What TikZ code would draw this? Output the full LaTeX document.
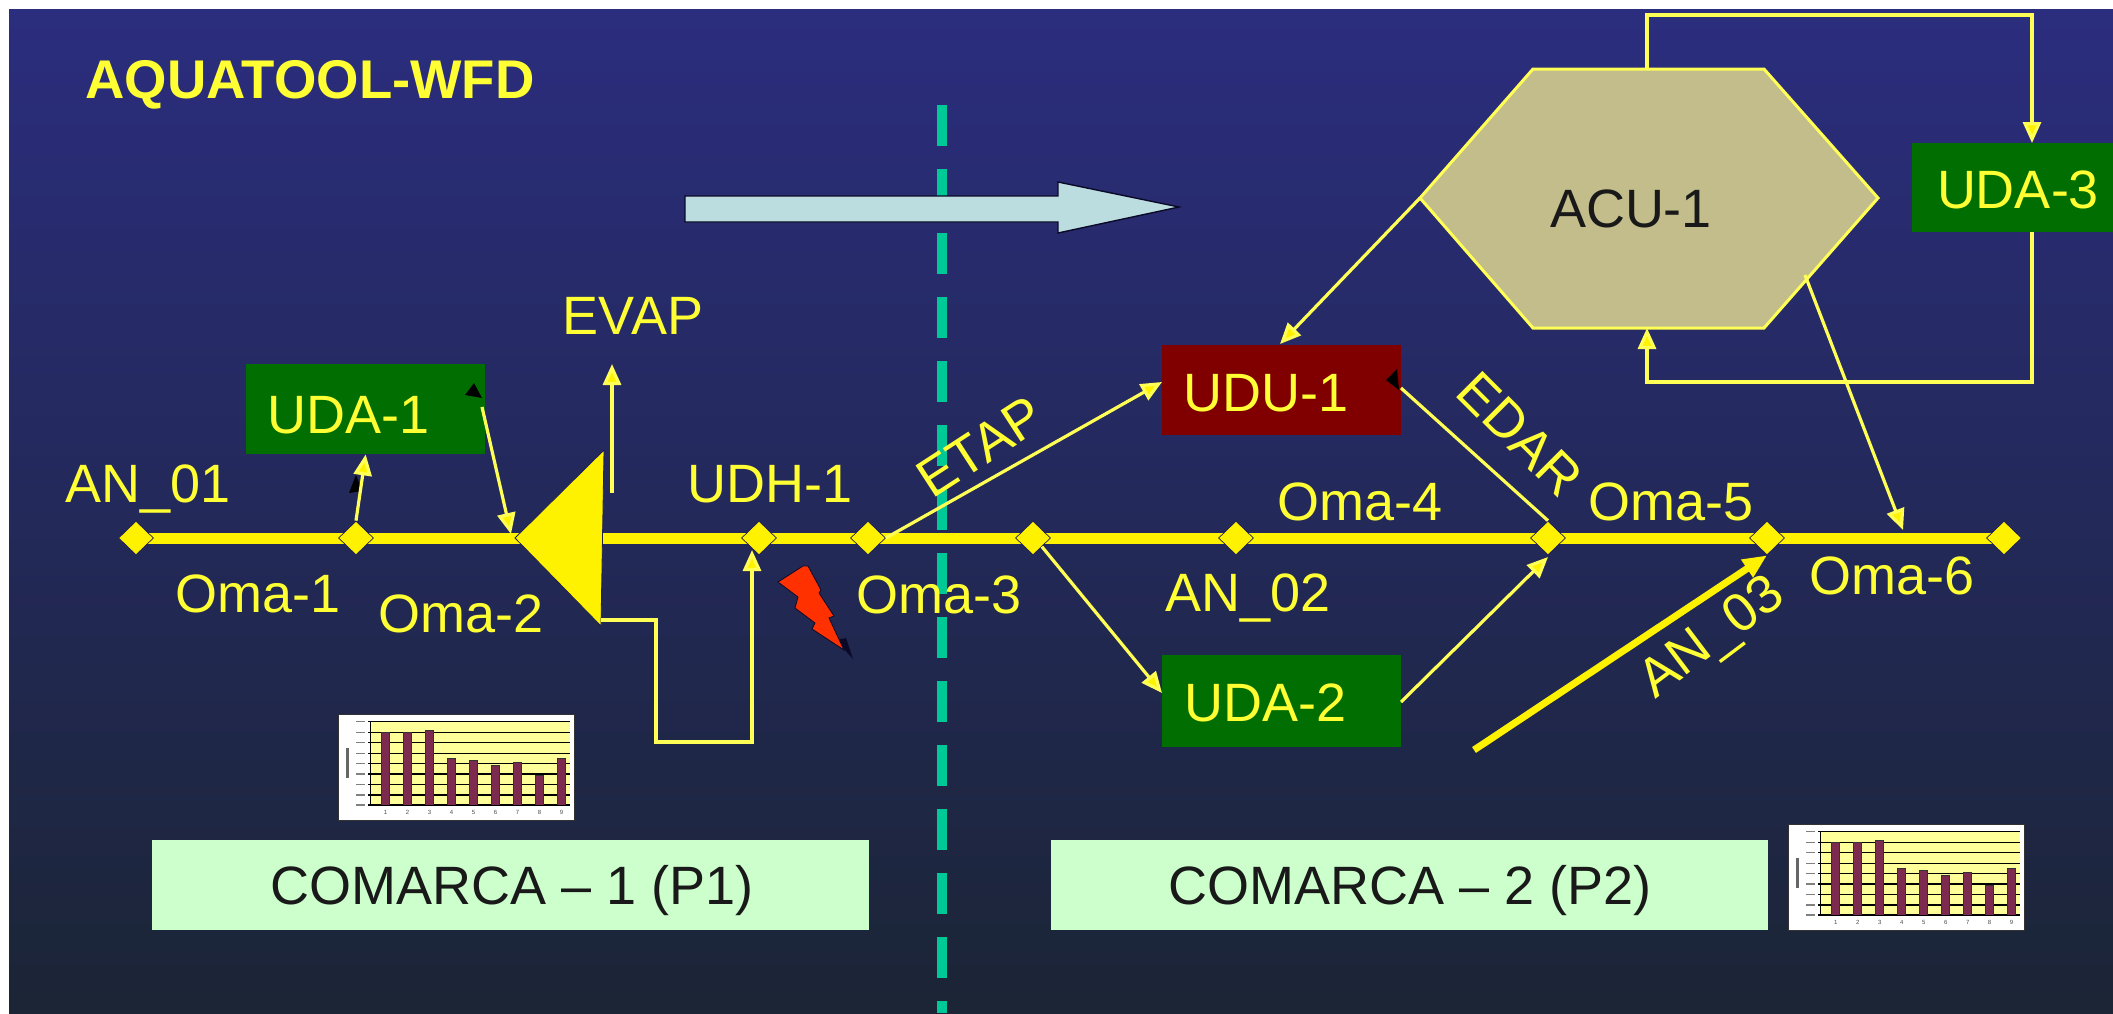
\documentclass[tikz,border=0pt]{standalone}
\usepackage{fontspec}
\setmainfont{Liberation Sans}
\usetikzlibrary{arrows.meta,shapes.geometric}
\definecolor{ylw}{HTML}{FFFF33}
\definecolor{lny}{HTML}{FFFF55}
\definecolor{grn}{HTML}{006E00}
\definecolor{dred}{HTML}{800000}
\definecolor{mint}{HTML}{CCFFCC}
\definecolor{khaki}{HTML}{C2BD8A}
\definecolor{teal2}{HTML}{00C896}
\definecolor{pale}{HTML}{BCDDE0}
\definecolor{barc}{HTML}{7D2A50}
\definecolor{chy}{HTML}{FFFF99}
\definecolor{rim}{HTML}{1E1E50}
\definecolor{shadowk}{HTML}{0A0A28}
\tikzset{
  lab/.style={text=ylw,font=\fontsize{54pt}{60pt}\selectfont,inner sep=0pt,anchor=base},
  rlab/.style={text=ylw,font=\fontsize{54pt}{60pt}\selectfont,inner sep=0pt,anchor=center},
  dlab/.style={text=black!90,font=\fontsize{54pt}{60pt}\selectfont,inner sep=0pt,anchor=base},
  boxn/.style={inner sep=0pt,minimum width=239pt,minimum height=90pt,anchor=north west},
  mark2/.style={diamond,fill=yellow,draw=rim,line width=.7pt,inner sep=0pt,minimum width=35pt,minimum height=34pt},
  conn/.style={draw=lny,line width=3.2pt,-{Triangle[length=21pt,width=18pt,fill=yellow]}},
  plain/.style={draw=lny,line width=3.2pt},
  comarca/.style={fill=mint,inner sep=0pt,minimum width=717pt,minimum height=90pt,anchor=north west},
}
\newcommand{\chartat}[2]{%
\begin{scope}[shift={(#1,#2)},x=0.3333pt,y=-0.3333pt]
  \fill[black!80] (-3,-3) rectangle (708,318);
  \fill[white] (0,0) rectangle (705,315);
  \fill[chy] (95,20) rectangle (693,270);
  \foreach \gy in {20,52,82,115,145,177,208,240,270} {
    \draw[black,line width=1.5pt] (88,\gy) -- (693,\gy);
    \draw[gray,line width=1.4pt] (52,\gy) -- (78,\gy);
  }
  \draw[black,line width=1.5pt] (95,20) -- (95,270);
  \foreach \bx/\by in {140/52,206/52,272/45,338/130,404/135,470/150,536/142,602/180,668/130} {
    \fill[barc] (\bx-12,\by) rectangle (\bx+12,270);
    \draw[black!80,line width=.6pt] (\bx-12,270) -- (\bx-12,\by) -- (\bx+12,\by) -- (\bx+12,270);
  }
  \draw[gray!80!black,line width=3pt] (25,100) -- (25,190);
  \foreach \k in {1,...,9} {
    \node[inner sep=0pt,text=black!70,font=\fontsize{6pt}{6pt}\selectfont] at (140+66*\k-66,292) {\k};
  }
\end{scope}}
\begin{document}
\begin{tikzpicture}[x=1pt,y=-1pt]
\useasboundingbox (0,0) rectangle (2113,1013);
\fill[white] (0,0) rectangle (2113,1013);
\shade[top color={rgb,255:red,43;green,45;blue,126},middle color={rgb,255:red,37;green,40;blue,108},bottom color={rgb,255:red,27;green,37;blue,53}] (9,9) rectangle (2113,1013);
% divider
\coordinate (divtop) at (942,105);
\coordinate (divbot) at (942,1013);
\draw[teal2,line width=10pt,dash pattern=on 41pt off 23pt] (divtop) -- (divbot);
% big arrow
\fill[pale,draw=shadowk,line width=1.4pt] (685,196) -- (1058,196) -- (1058,182) -- (1179,207) -- (1058,233) -- (1058,222) -- (685,222) -- cycle;
% title
\node[lab,font=\fontsize{54.5pt}{60pt}\selectfont\bfseries] (title) at (310,98) {AQUATOOL-WFD};
% main line and markers
\coordinate (linea) at (136,538);
\coordinate (lineb) at (2004,538);
\draw[yellow,line width=11pt] (linea) -- (lineb);
\node[mark2] (d1) at (136,538) {};
\node[mark2] (d2) at (356,538) {};
\node[mark2] (d3) at (759,538) {};
\node[mark2] (d4) at (868,538) {};
\node[mark2] (d5) at (1033,538) {};
\node[mark2] (d6) at (1236,538) {};
\node[mark2] (d7) at (1548,538) {};
\node[mark2] (d8) at (1767,538) {};
\node[mark2] (d9) at (2004,538) {};
% boxes
\node[boxn,fill=grn] (uda1) at (246,364) {};
\node[lab] (uda1t) at (349,433) {UDA-1};
\node[boxn,fill=dred] (udu1) at (1162,345) {};
\node[lab] (udu1t) at (1266,411) {UDU-1};
\node[boxn,fill=grn,minimum height=92pt] (uda2) at (1162,655) {};
\node[lab] (uda2t) at (1266,721) {UDA-2};
\node[boxn,fill=grn,minimum width=201pt,minimum height=89pt] (uda3) at (1912,143) {};
\node[lab] (uda3t) at (2018,208) {UDA-3};
% reservoir triangle
\coordinate (rtip) at (515,538);
\coordinate (rtop) at (604,450);
\coordinate (rbot) at (601,626);
\coordinate (rout) at (601,620);
\fill[yellow,draw=rim,line width=.8pt] (rtip) -- (rtop) -- (rbot) -- cycle;
% hexagon
\coordinate (hL) at (1420,198);
\coordinate (hTL) at (1533,69);
\coordinate (hTR) at (1764,69);
\coordinate (hR) at (1878,198);
\coordinate (hBR) at (1764,328);
\coordinate (hBL) at (1533,328);
\fill[khaki,draw=lny,line width=3pt] (hL) -- (hTL) -- (hTR) -- (hR) -- (hBR) -- (hBL) -- cycle;
\node[dlab] (acu1) at (1631,227) {ACU-1};
% small black marks
\fill[black] (349,493) -- (356,475) -- (362,491) -- cycle;
\fill[black] (465,395) -- (474,383) -- (482,398) -- cycle;
\fill[black] (1386,380) -- (1397,369) -- (1399,390) -- cycle;
% connectors
\coordinate (evap0) at (612,493);
\coordinate (evap1) at (612,364);
\draw[conn] (evap0) -- (evap1);
\draw[conn] (d2.north) -- (uda1.south);
\coordinate (u1out) at (482,407);
\coordinate (rin) at (511,534);
\draw[conn] (u1out) -- (rin);
\coordinate (d3in) at (752,550);
\draw[conn] (rout) -- (656,620) -- (656,742) -- (752,742) -- (d3in);
\coordinate (uduW) at (1162,382);
\draw[conn] (d4.east) -- (uduW);
\coordinate (ud2W) at (1162,693);
\draw[conn] (d5.south east) -- (ud2W);
\coordinate (ud2E) at (1401,702);
\coordinate (d7in) at (1548,557);
\draw[conn] (ud2E) -- (d7in);
\coordinate (uduE) at (1401,388);
\draw[plain] (uduE) -- (d7.north);
\coordinate (uduN) at (1280,344);
\draw[conn] (hL) -- (uduN);
\coordinate (hNt) at (1647,69);
\coordinate (u3N) at (2032,143);
\draw[conn] (hNt) -- (1647,15) -- (2032,15) -- (u3N);
\coordinate (u3S) at (2032,232);
\coordinate (hNb) at (1647,328);
\draw[conn] (u3S) -- (2032,382) -- (1647,382) -- (hNb);
\coordinate (hSE) at (1805,275);
\coordinate (line6) at (1903,530);
\draw[conn] (hSE) -- (line6);
\coordinate (an3) at (1474,750);
\draw[draw=yellow,line width=7pt,-{Triangle[length=24pt,width=20pt,fill=yellow]}] (an3) -- (d8.south);
% lightning
\fill[shadowk] (853,659) -- (836,640) -- (846,638) -- cycle;
\fill[red!70!orange!95!yellow,draw=shadowk,line width=.8pt] (803,566) -- (778,582) -- (798,597) -- (795,608) -- (815,623) -- (812,629) -- (844,650) -- (829,618) -- (834,616) -- (819,593) -- (821,590) -- (808,566) -- cycle;
% labels
\node[lab] (evap) at (633,334) {EVAP};
\node[lab] (an01) at (148,502) {AN\_01};
\node[lab] (oma1) at (258,612) {Oma-1};
\node[lab] (oma2) at (461,632) {Oma-2};
\node[lab] (udh1) at (770,502) {UDH-1};
\node[lab] (oma3) at (939,613) {Oma-3};
\node[lab] (oma4) at (1360,520) {Oma-4};
\node[lab] (oma5) at (1671,520) {Oma-5};
\node[lab] (an02) at (1248,611) {AN\_02};
\node[lab] (oma6) at (1892,594) {Oma-6};
\node[rlab,rotate=33] (etap) at (980,447) {ETAP};
\node[rlab,rotate=-45] (edar) at (1520,434) {EDAR};
\node[rlab,rotate=37] (an03) at (1713,639) {AN\_03};
% comarca
\node[comarca] (c1) at (152,840) {};
\node[dlab] (c1t) at (512,904) {COMARCA – 1 (P1)};
\node[comarca] (c2) at (1051,840) {};
\node[dlab] (c2t) at (1410,904) {COMARCA – 2 (P2)};
% charts
\chartat{339}{715}
\chartat{1789}{825}
\end{tikzpicture}
\end{document}
